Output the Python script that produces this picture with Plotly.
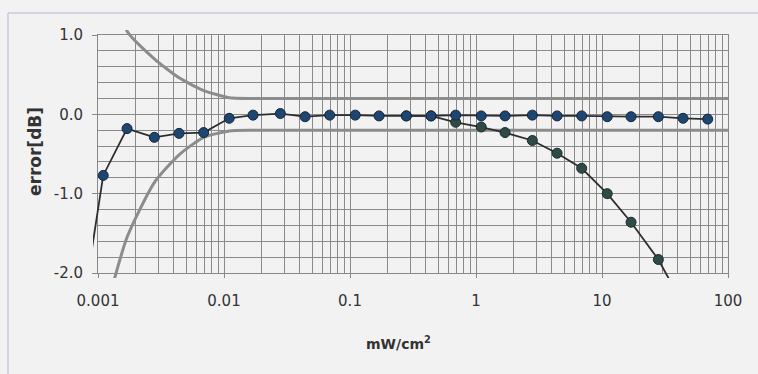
import plotly.graph_objects as go

# ---- data -------------------------------------------------------------
power = [0.0007, 0.0011, 0.0017, 0.0028, 0.0044, 0.0069, 0.011, 0.017, 0.028,
         0.044, 0.069, 0.11, 0.17, 0.28, 0.44, 0.69, 1.1, 1.7, 2.8, 4.4,
         6.9, 11, 17, 28, 44, 69]
err_low = [-2.8, -0.77, -0.18, -0.29, -0.24, -0.23, -0.05, -0.01, 0.01, -0.03,
           -0.01, -0.01, -0.02, -0.02, -0.02, -0.01, -0.02, -0.02, -0.01, -0.02,
           -0.02, -0.03, -0.03, -0.03, -0.05, -0.06]

power_high = [0.28, 0.44, 0.69, 1.1, 1.7, 2.8, 4.4, 6.9, 11, 17, 28, 44]
err_high = [-0.02, -0.02, -0.10, -0.16, -0.23, -0.33, -0.49, -0.68, -1.0,
            -1.36, -1.83, -2.4]

limit_x = [0.0011, 0.0017, 0.0028, 0.0044, 0.0069, 0.011, 0.017, 100]
limit_upper = [2.2, 1.05, 0.70, 0.46, 0.30, 0.21, 0.20, 0.20]
limit_lower = [-2.6, -1.55, -0.86, -0.51, -0.29, -0.21, -0.20, -0.20]

x_tick_vals = [0.001, 0.01, 0.1, 1, 10, 100]
x_tick_text = ["0.001", "0.01", "0.1", "1", "10", "100"]
x_minor_vals = [m * d for d in [0.001, 0.01, 0.1, 1, 10] for m in range(2, 10)]
y_tick_vals = [1, 0, -1, -2]
y_tick_text = ["1.0", "0.0", "-1.0", "-2.0"]

# ---- geometry (pixels) --------------------------------------------------
W, H = 758, 374
ML, MR, MT, MB = 93, 25, 30, 96
PAD = 5                      # lines may run a few px past the frame
PW, PH = W - ML - MR, H - MT - MB
X_LO, X_HI = -3, 2
Y_LO, Y_HI = -2, 1
px_per_dec = (PW - 2 * PAD) / (X_HI - X_LO)
px_per_unit = (PH - 2 * PAD) / (Y_HI - Y_LO)


def paper_x(px):
    return (px - ML) / PW


def paper_y(py):
    return (H - MB - py) / PH


BG = "#f2f2f3"
GRID = "#8a8a8a"
FONT = "DejaVu Sans"

fig = go.Figure()

# empty trace so the gridded frame subplot (x, y) is created
fig.add_trace(go.Scatter(x=[], y=[], xaxis="x", yaxis="y", mode="lines",
                         showlegend=False, hoverinfo="skip"))

fig.add_trace(go.Scatter(
    x=limit_x, y=limit_upper, mode="lines", xaxis="x2", yaxis="y2",
    line=dict(color="#8c8c8c", width=3, shape="spline", smoothing=0.6),
    showlegend=False, hoverinfo="skip"))
fig.add_trace(go.Scatter(
    x=limit_x, y=limit_lower, mode="lines", xaxis="x2", yaxis="y2",
    line=dict(color="#8c8c8c", width=3, shape="spline", smoothing=0.6),
    showlegend=False, hoverinfo="skip"))
fig.add_trace(go.Scatter(
    x=power_high, y=err_high, mode="lines+markers", xaxis="x2", yaxis="y2",
    line=dict(color="#2e2e2e", width=1.8),
    marker=dict(size=10, color="#2f4b48", line=dict(color="#1e2a2a", width=1)),
    showlegend=False, cliponaxis=True))
fig.add_trace(go.Scatter(
    x=power, y=err_low, mode="lines+markers", xaxis="x2", yaxis="y2",
    line=dict(color="#2e2e2e", width=1.8),
    marker=dict(size=10, color="#1d4672", line=dict(color="#1a2636", width=1)),
    showlegend=False, cliponaxis=True))

fig.update_layout(
    width=W, height=H,
    margin=dict(l=ML, r=MR, t=MT, b=MB, pad=0),
    paper_bgcolor=BG, plot_bgcolor="rgba(0,0,0,0)",
    font=dict(family=FONT, size=15, color="#333333"),
    xaxis=dict(
        type="log", range=[X_LO, X_HI], anchor="y",
        domain=[PAD / PW, 1 - PAD / PW],
        tickmode="array", tickvals=x_tick_vals, ticktext=x_tick_text,
        ticks="outside", ticklen=4, tickcolor="#888888",
        ticklabelstandoff=10,
        showgrid=True, gridcolor=GRID, gridwidth=1,
        minor=dict(tickmode="array", tickvals=x_minor_vals, showgrid=True,
                   gridcolor=GRID, gridwidth=1, ticks=""),
        showline=True, linecolor="#888888", linewidth=1, mirror=True,
        zeroline=False, fixedrange=True),
    yaxis=dict(
        range=[Y_LO, Y_HI], anchor="x",
        domain=[PAD / PH, 1 - PAD / PH],
        tickmode="array", tickvals=y_tick_vals, ticktext=y_tick_text,
        ticks="outside", ticklen=5, tickcolor="#888888",
        ticklabelstandoff=6,
        showgrid=True, gridcolor=GRID, gridwidth=1,
        minor=dict(dtick=0.2, showgrid=True, gridcolor=GRID, gridwidth=1,
                   ticks=""),
        showline=True, linecolor="#888888", linewidth=1, mirror=True,
        zeroline=False, fixedrange=True),
    xaxis2=dict(
        type="log", anchor="y2", domain=[0, 1],
        range=[X_LO - PAD / px_per_dec, X_HI + PAD / px_per_dec],
        visible=False, fixedrange=True),
    yaxis2=dict(
        anchor="x2", domain=[0, 1],
        range=[Y_LO - PAD / px_per_unit, Y_HI + PAD / px_per_unit],
        visible=False, fixedrange=True),
    shapes=[dict(
        type="rect", xref="paper", yref="paper",
        x0=paper_x(8), x1=paper_x(775), y0=paper_y(13), y1=paper_y(390),
        line=dict(color="#b3b7cf", width=1), fillcolor="rgba(0,0,0,0)",
        layer="below")],
    annotations=[
        dict(text="error[dB]", xref="paper", yref="paper",
             x=paper_x(35), y=paper_y(152), textangle=-90, showarrow=False,
             xanchor="center", yanchor="middle",
             font=dict(family=FONT, size=17, color="#333333", weight="bold")),
        dict(text="mW/cm<sup>2</sup>", xref="paper", yref="paper",
             x=paper_x(398), y=paper_y(343), showarrow=False,
             xanchor="center", yanchor="middle",
             font=dict(family=FONT, size=14, color="#333333", weight="bold")),
    ],
)

fig.write_html("out.html")
